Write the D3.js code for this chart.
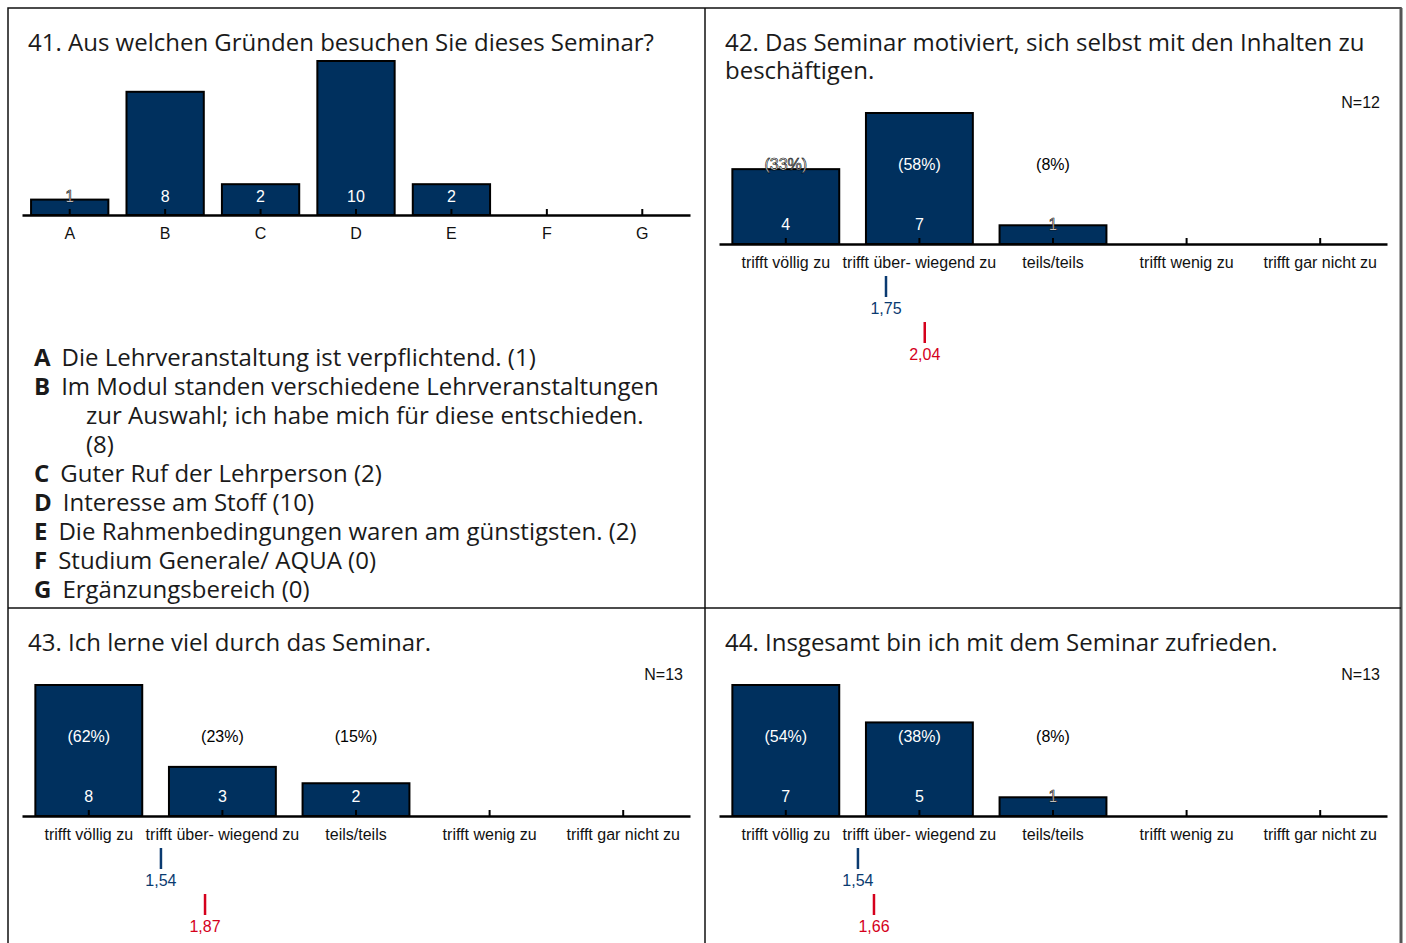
<!DOCTYPE html>
<html>
<head>
<meta charset="utf-8">
<script src="https://cdn.jsdelivr.net/npm/d3@7"></script>
<style>
  body { margin: 0; background: #fff; }
  svg { display: block; }
  .title { font-family: "Open Sans"; font-size: 24px; fill: #1a1a1a; }
  .legend { font-family: "Open Sans"; font-size: 24px; fill: #1a1a1a; }
  .lbl { font-family: "Liberation Sans", Arial; font-size: 16px; }
</style>
</head>
<body>
<svg id="drawspace" width="1406" height="943"></svg>
<script>
// ---- data ----
let q41Title = ["41. Aus welchen Gründen besuchen Sie dieses Seminar?"];
let q41Cats = ["A", "B", "C", "D", "E", "F", "G"];
let q41Values = [1, 8, 2, 10, 2, 0, 0];
let q41Legend = [
  ["Die Lehrveranstaltung ist verpflichtend. (1)"],
  ["Im Modul standen verschiedene Lehrveranstaltungen", "zur Auswahl; ich habe mich für diese entschieden.", "(8)"],
  ["Guter Ruf der Lehrperson (2)"],
  ["Interesse am Stoff (10)"],
  ["Die Rahmenbedingungen waren am günstigsten. (2)"],
  ["Studium Generale/ AQUA (0)"],
  ["Ergänzungsbereich (0)"]
];

let likertCats = ["trifft völlig zu", "trifft über- wiegend zu", "teils/teils", "trifft wenig zu", "trifft gar nicht zu"];

let q42Title = ["42. Das Seminar motiviert, sich selbst mit den Inhalten zu", "beschäftigen."];
let q42Counts = [4, 7, 1, 0, 0];
let q42Pct = [33, 58, 8, 0, 0];
let q42N = 12, q42Mean = 1.75, q42Ref = 2.04;

let q43Title = ["43. Ich lerne viel durch das Seminar."];
let q43Counts = [8, 3, 2, 0, 0];
let q43Pct = [62, 23, 15, 0, 0];
let q43N = 13, q43Mean = 1.54, q43Ref = 1.87;

let q44Title = ["44. Insgesamt bin ich mit dem Seminar zufrieden."];
let q44Counts = [7, 5, 1, 0, 0];
let q44Pct = [54, 38, 8, 0, 0];
let q44N = 13, q44Mean = 1.54, q44Ref = 1.66;

// ---- drawing ----
let drawSpace = d3.select("#drawspace");
var barFill = "#00305e", meanBlue = "#0a3a70", refRed = "#d5001c";

// frame
drawSpace.append("rect").attr("x", 8).attr("y", 8).attr("width", 1393).attr("height", 960)
  .attr("fill", "none").attr("stroke", "#111").attr("stroke-width", 1.5);
drawSpace.append("line").attr("x1", 1401).attr("x2", 1401).attr("y1", 8).attr("y2", 943)
  .attr("stroke", "#555").attr("stroke-width", 3);
drawSpace.append("line").attr("x1", 705).attr("x2", 705).attr("y1", 8).attr("y2", 943)
  .attr("stroke", "#111").attr("stroke-width", 1.5);
drawSpace.append("line").attr("x1", 8).attr("x2", 1401).attr("y1", 608).attr("y2", 608)
  .attr("stroke", "#111").attr("stroke-width", 1.5);

function title(g, lines) {
  g.selectAll("text.title").data(lines).enter().append("text")
    .attr("class", "title")
    .attr("x", 20)
    .attr("y", (d, i) => 43 + i * 28)
    .text((d) => d);
}

// colour of a label depending on whether it sits in the bar, above it, or across its top
function labelStyle(sel, barTop, baseY) {
  let top = baseY - 12, bottom = baseY;
  if (barTop <= top - 2) sel.attr("fill", "white");
  else if (barTop >= bottom) sel.attr("fill", "black");
  else sel.attr("fill", "white").attr("stroke", "black").attr("stroke-width", 0.6);
}

function bars(g, cats, values, x, y, axisY) {
  g.selectAll("rect.bar").data(values).enter().append("rect")
    .attr("class", "bar")
    .attr("x", (d, i) => x(cats[i]))
    .attr("width", x.bandwidth())
    .attr("y", (d) => y(d))
    .attr("height", (d) => axisY - y(d))
    .attr("fill", barFill)
    .attr("stroke", (d) => (d ? "black" : "#555"))
    .attr("stroke-width", (d) => (d ? 2 : 4));

  let ax = g.append("g")
    .attr("transform", "translate(0," + axisY + ")")
    .call(d3.axisBottom(x).tickSizeInner(-6).tickSizeOuter(0).tickPadding(13));
  ax.select(".domain").attr("stroke", "black").attr("stroke-width", 2.5);
  ax.selectAll(".tick line").attr("stroke", "black").attr("stroke-width", 2);
  ax.selectAll(".tick text").attr("class", "lbl").attr("fill", "#111");
  ax.attr("font-family", null).attr("font-size", null);
}

// ---- question 41 ----
(function () {
  let g = drawSpace.append("g").attr("transform", "translate(8,8)");
  title(g, q41Title);
  let axisY = 207;
  let x = d3.scaleBand().domain(q41Cats).range([14, 682]).paddingInner(0.19).paddingOuter(0.095);
  let y = d3.scaleLinear().domain([0, d3.max(q41Values)]).range([axisY, axisY - 154]);
  bars(g, q41Cats, q41Values, x, y, axisY);

  q41Values.forEach((v, i) => {
    if (!v) return;
    g.append("text").attr("class", "lbl")
      .attr("text-anchor", "middle")
      .attr("x", x(q41Cats[i]) + x.bandwidth() / 2)
      .attr("y", axisY - 13)
      .text(v)
      .call(labelStyle, y(v), axisY - 13);
  });

  // legend
  let row = 0;
  q41Legend.forEach((lines, i) => {
    lines.forEach((line, j) => {
      let t = g.append("text").attr("class", "legend").attr("y", 358 + row * 29);
      if (j === 0) {
        t.append("tspan").attr("x", 26).attr("font-weight", "bold").text(q41Cats[i]);
        t.append("tspan").attr("dx", 11).text(line);
      } else {
        t.attr("x", 78).text(line);
      }
      row++;
    });
  });
})();

// ---- likert questions ----
function likert(px, py, titleLines, counts, pct, n, mean, ref) {
  let g = drawSpace.append("g").attr("transform", "translate(" + px + "," + py + ")");
  title(g, titleLines);
  let off = (titleLines.length - 1) * 28;
  let axisY = 208 + off;

  let x = d3.scaleBand().domain(likertCats).range([14, 682]).paddingInner(0.2).paddingOuter(0.1);
  let y = d3.scaleLinear().domain([0, d3.max(counts)]).range([axisY, axisY - 131]);
  let m = d3.scaleLinear().domain([1, 5])
    .range([x(likertCats[0]) + x.bandwidth() / 2, x(likertCats[4]) + x.bandwidth() / 2]);

  g.append("text").attr("class", "lbl").attr("text-anchor", "end")
    .attr("x", 675).attr("y", 72 + off).attr("fill", "#111").text("N=" + n);

  bars(g, likertCats, counts, x, y, axisY);

  counts.forEach((v, i) => {
    if (!v) return;
    let cx = x(likertCats[i]) + x.bandwidth() / 2;
    g.append("text").attr("class", "lbl").attr("text-anchor", "middle")
      .attr("x", cx).attr("y", axisY - 14).text(v)
      .call(labelStyle, y(v), axisY - 14);
    g.append("text").attr("class", "lbl").attr("text-anchor", "middle")
      .attr("x", cx).attr("y", axisY - 74).text("(" + pct[i] + "%)")
      .call(labelStyle, y(v), axisY - 74);
  });

  // mean markers
  [[mean, meanBlue, 32], [ref, refRed, 78]].forEach(([val, col, dy]) => {
    g.append("line").attr("x1", m(val)).attr("x2", m(val))
      .attr("y1", axisY + dy).attr("y2", axisY + dy + 21)
      .attr("stroke", col).attr("stroke-width", 2.5);
    g.append("text").attr("class", "lbl").attr("text-anchor", "middle")
      .attr("x", m(val)).attr("y", axisY + dy + 38).attr("fill", col)
      .text(String(val.toFixed(2)).replace(".", ","));
  });
}

likert(705, 8, q42Title, q42Counts, q42Pct, q42N, q42Mean, q42Ref);
likert(8, 608, q43Title, q43Counts, q43Pct, q43N, q43Mean, q43Ref);
likert(705, 608, q44Title, q44Counts, q44Pct, q44N, q44Mean, q44Ref);
</script>
</body>
</html>
